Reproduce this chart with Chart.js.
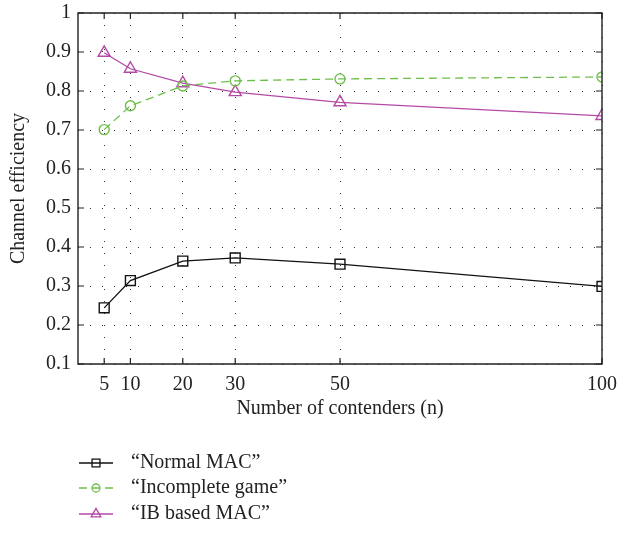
<!DOCTYPE html>
<html><head><meta charset="utf-8">
<script src="https://cdn.jsdelivr.net/npm/chart.js@4/dist/chart.umd.min.js"></script>
<style>html,body{margin:0;padding:0;background:#fff;}#wrap{width:617px;height:533px;}</style>
</head><body><div id="wrap"><canvas id="c" width="617" height="533"></canvas></div>
<script>
const xValues = [5, 10, 20, 30, 50, 100];
const xTicks = [5, 10, 20, 30, 50, 100];
const yTicks = [0.1, 0.2, 0.3, 0.4, 0.5, 0.6, 0.7, 0.8, 0.9, 1];
const normalMAC = [0.244, 0.314, 0.364, 0.372, 0.356, 0.299];
const incompleteGame = [0.701, 0.762, 0.813, 0.826, 0.831, 0.836];
const ibBasedMAC = [0.898, 0.857, 0.820, 0.797, 0.771, 0.736];
const seriesNames = ['“Normal MAC”', '“Incomplete game”', '“IB based MAC”'];

const FONT = '"Liberation Serif", "DejaVu Serif", serif';
const FS = 20;
const pts = arr => xValues.map((x, i) => ({x: x, y: arr[i]}));

const boxPlugin = {
  id: 'boxPlugin',
  afterDatasetsDraw(chart) {
    const {ctx, chartArea: a, scales} = chart;
    ctx.save();
    ctx.strokeStyle = '#222';
    ctx.lineWidth = 1.4;
    ctx.beginPath();
    ctx.rect(a.left, a.top, a.right - a.left, a.bottom - a.top);
    ctx.stroke();
    const L = 6;
    ctx.lineWidth = 1.2;
    ctx.beginPath();
    yTicks.forEach(v => {
      const y = scales.y.getPixelForValue(v);
      ctx.moveTo(a.left, y); ctx.lineTo(a.left + L, y);
      ctx.moveTo(a.right, y); ctx.lineTo(a.right - L, y);
    });
    xTicks.forEach(v => {
      const x = scales.x.getPixelForValue(v);
      ctx.moveTo(x, a.bottom); ctx.lineTo(x, a.bottom - L);
      ctx.moveTo(x, a.top); ctx.lineTo(x, a.top + L);
    });
    ctx.stroke();
    ctx.restore();
  },
  afterDraw(chart) {
    const ctx = chart.ctx;
    ctx.save();
    const rows = [463, 488, 514];
    chart.data.datasets.forEach((ds, i) => {
      const y = rows[i];
      ctx.strokeStyle = ds.borderColor;
      ctx.lineWidth = ds.borderWidth;
      ctx.setLineDash(ds.borderDash || []);
      ctx.beginPath();
      ctx.moveTo(79, y); ctx.lineTo(113, y);
      ctx.stroke();
      ctx.setLineDash([]);
      ctx.fillStyle = 'rgba(0,0,0,0)';
      ctx.strokeStyle = ds.borderColor;
      ctx.lineWidth = 1.3;
      Chart.helpers.drawPoint(ctx, {
        pointStyle: ds.pointStyle, radius: ds.pointRadius * 0.8, borderWidth: 1.3, rotation: 0
      }, 96, y);
      ctx.fillStyle = '#222';
      ctx.font = FS + 'px ' + FONT;
      ctx.textBaseline = 'middle';
      ctx.textAlign = 'left';
      ctx.fillText(ds.label, 131, y);
    });
    ctx.restore();
  }
};

new Chart(document.getElementById('c'), {
  type: 'line',
  data: {
    datasets: [
      {label: seriesNames[0], data: pts(normalMAC), borderColor: '#111', backgroundColor: 'transparent',
       borderWidth: 1.3, pointStyle: 'rect', pointRadius: 7, pointBorderWidth: 1.4, pointBorderColor: '#111', pointBackgroundColor: 'transparent'},
      {label: seriesNames[1], data: pts(incompleteGame), borderColor: '#6dbf4b', backgroundColor: 'transparent',
       borderWidth: 1.3, borderDash: [8, 5], pointStyle: 'circle', pointRadius: 5, pointBorderWidth: 1.4, pointBorderColor: '#6dbf4b', pointBackgroundColor: 'transparent'},
      {label: seriesNames[2], data: pts(ibBasedMAC), borderColor: '#b44aa6', backgroundColor: 'transparent',
       borderWidth: 1.3, pointStyle: 'triangle', pointRadius: 7, pointBorderWidth: 1.4, pointBorderColor: '#b44aa6', pointBackgroundColor: 'transparent'}
    ]
  },
  options: {
    responsive: false,
    animation: false,
    layout: {padding: {top: 13, right: 15, left: 0, bottom: 112}},
    plugins: {legend: {display: false}, tooltip: {enabled: false}},
    scales: {
      x: {
        type: 'linear', min: 0, max: 100,
        afterBuildTicks: s => { s.ticks = xTicks.map(v => ({value: v})); },
        afterFit: s => { s.height = 57; s.paddingLeft = 0; s.paddingRight = 0; },
        grid: {drawTicks: false, color: '#333', lineWidth: 1},
        border: {display: false, dash: [1, 11]},
        ticks: {color: '#222', font: {family: FONT, size: FS}, padding: 9, maxRotation: 0, autoSkip: false,
                callback: v => String(v)},
        title: {display: true, text: 'Number of contenders (n)', color: '#222', font: {family: FONT, size: FS}, padding: {top: 0, bottom: 0}}
      },
      y: {
        min: 0.1, max: 1,
        afterBuildTicks: s => { s.ticks = yTicks.map(v => ({value: v})); },
        afterFit: s => { s.width = 78; s.paddingTop = 0; s.paddingBottom = 0; },
        grid: {drawTicks: false, color: '#333', lineWidth: 1},
        border: {display: false, dash: [1, 11]},
        ticks: {color: '#222', font: {family: FONT, size: FS}, padding: 7,
                callback: v => (Math.round(v * 10) / 10).toString()},
        title: {display: true, text: 'Channel efficiency', color: '#222', font: {family: FONT, size: FS}, padding: {top: 7, bottom: 0}}
      }
    }
  },
  plugins: [boxPlugin]
});
</script></body></html>
